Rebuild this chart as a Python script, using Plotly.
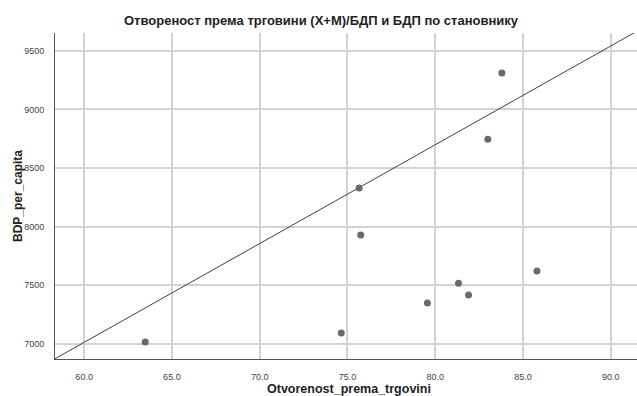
import plotly.graph_objects as go

# Data
otvorenost = [63.48, 74.65, 75.67, 75.76, 79.56, 81.33, 81.90, 83.00, 83.80, 85.80]
bdp_per_capita = [7017, 7094, 8329, 7928, 7349, 7517, 7417, 8746, 9311, 7622]

# Reference line: y = intercept + slope * x
line_intercept = 1962.0
line_slope = 84.2

x_range = [58.34, 91.5]
y_range = [6872, 9651]
x_ticks = [60, 65, 70, 75, 80, 85, 90]
x_tick_labels = ["60.0", "65.0", "70.0", "75.0", "80.0", "85.0", "90.0"]
y_ticks = [7000, 7500, 8000, 8500, 9000, 9500]
y_tick_labels = ["7000", "7500", "8000", "8500", "9000", "9500"]

title_text = "Отвореност према трговини (X+M)/БДП и БДП по становнику"
x_title = "Otvorenost_prema_trgovini"
y_title = "BDP_per_capita"

FONT = "Liberation Sans, Arial, sans-serif"

line_x = [x_range[0], x_range[1] + 2]
line_y = [line_intercept + line_slope * v for v in line_x]

fig = go.Figure()
fig.add_trace(go.Scatter(
    x=line_x, y=line_y, mode="lines",
    line=dict(color="#404040", width=1), hoverinfo="skip", showlegend=False,
))
fig.add_trace(go.Scatter(
    x=otvorenost, y=bdp_per_capita, mode="markers",
    marker=dict(color="#6a6a6e", size=7, line=dict(width=0)),
    showlegend=False,
))

fig.update_layout(
    width=637, height=396,
    margin=dict(l=55, r=0, t=33, b=37),
    paper_bgcolor="white", plot_bgcolor="white",
    font=dict(family=FONT, color="#222222"),
    title=dict(text="<b>" + title_text + "</b>", x=321 / 637, xref="container", xanchor="center",
               y=1 - 20.5 / 396, yref="container", yanchor="middle",
               font=dict(size=13, family=FONT, color="#222222")),
    showlegend=False,
)
fig.update_xaxes(
    range=x_range, tickvals=x_ticks, ticktext=x_tick_labels,
    showgrid=True, gridcolor="#d2d2d2", gridwidth=1.5,
    showline=True, linecolor="#555555", linewidth=1,
    zeroline=False, ticks="", ticklabelstandoff=9,
    tickfont=dict(size=9, color="#444444", family=FONT),
    automargin=False,
)
fig.update_yaxes(
    range=y_range, tickvals=y_ticks, ticktext=y_tick_labels,
    showgrid=True, gridcolor="#d2d2d2", gridwidth=1.5,
    showline=True, linecolor="#555555", linewidth=1,
    zeroline=False, ticks="", ticklabelstandoff=8,
    tickfont=dict(size=9, color="#444444", family=FONT),
    automargin=False,
)
fig.add_annotation(text="<b>" + x_title + "</b>", xref="paper", yref="paper",
                   x=(349 - 55) / 582, y=-30 / 326, xanchor="center", yanchor="middle",
                   showarrow=False, font=dict(size=12.5, family=FONT, color="#222222"))
fig.add_annotation(text="<b>" + y_title + "</b>", xref="paper", yref="paper",
                   x=-37 / 582, y=0.5, xanchor="center", yanchor="middle",
                   textangle=-90, showarrow=False,
                   font=dict(size=12, family=FONT, color="#222222"))

fig.write_html("out.html", config={"displayModeBar": False},
               post_script="document.body.style.margin='0';")
